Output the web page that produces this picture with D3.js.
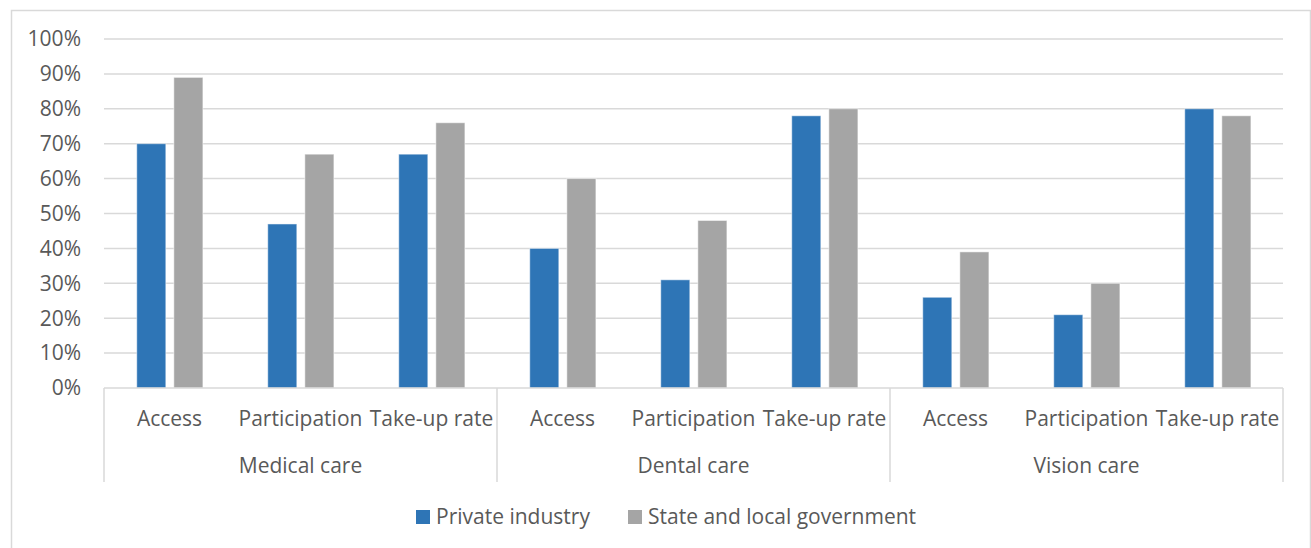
<!DOCTYPE html>
<html>
<head>
<meta charset="utf-8">
<script src="https://cdn.jsdelivr.net/npm/d3@7"></script>
<style>
  body { margin: 0; background: #fff; }
  svg text { font-family: 'Open Sans', sans-serif; fill: #595959; }
</style>
</head>
<body>
<div id="chart"></div>
<script>
// data
var groups = ['Medical care', 'Dental care', 'Vision care'];
var measures = ['Access', 'Participation', 'Take-up rate'];
var series = ['Private industry', 'State and local government'];
var privateVals = [70, 47, 67, 40, 31, 78, 26, 21, 80];
var stateVals = [89, 67, 76, 60, 48, 80, 39, 30, 78];
var yTicks = [0, 10, 20, 30, 40, 50, 60, 70, 80, 90, 100];
var colors = ['#2E75B6', '#A5A5A5'];

var width = 1311, height = 548;
var plot = {left: 104, right: 1283, top: 39, bottom: 388};
var fontSize = 21;

var svg = d3.select('#chart').append('svg')
    .attr('width', width).attr('height', height);

// outer chart border
svg.append('rect')
    .attr('x', 11.5).attr('y', 10.5)
    .attr('width', 1299).attr('height', 560)
    .attr('fill', 'none').attr('stroke', '#d9d9d9').attr('stroke-width', 1.5);

// build category keys: one per group x measure
var cats = [];
groups.forEach(function(g) {
    measures.forEach(function(m) { cats.push(g + '|' + m); });
});

var x = d3.scaleBand().domain(cats).range([plot.left, plot.right]);
var xInner = d3.scaleBand().domain(series)
    .range([x.bandwidth() * 0.25, x.bandwidth() * 0.755])
    .paddingInner(0.216);
var y = d3.scaleLinear().domain([0, 100]).range([plot.bottom, plot.top]);

// gridlines
svg.append('g').selectAll('line')
    .data(yTicks.slice(1)).enter().append('line')
    .attr('x1', plot.left).attr('x2', plot.right)
    .attr('y1', function(d) { return y(d); })
    .attr('y2', function(d) { return y(d); })
    .attr('stroke', '#d9d9d9').attr('stroke-width', 1.5);

// y tick labels
svg.append('g').selectAll('text')
    .data(yTicks).enter().append('text')
    .attr('x', 81).attr('y', function(d) { return y(d); })
    .attr('dy', '0.35em')
    .attr('text-anchor', 'end')
    .attr('font-size', fontSize)
    .text(function(d) { return d + '%'; });

// bars
var rows = cats.map(function(c, i) {
    return {cat: c, vals: [privateVals[i], stateVals[i]]};
});
var catG = svg.append('g').selectAll('g')
    .data(rows).enter().append('g')
    .attr('transform', function(d) { return 'translate(' + x(d.cat) + ',0)'; });

catG.selectAll('rect')
    .data(function(d) {
        return d.vals.map(function(v, j) { return {s: series[j], v: v, j: j}; });
    })
    .enter().append('rect')
    .attr('x', function(d) { return xInner(d.s); })
    .attr('width', xInner.bandwidth())
    .attr('y', function(d) { return y(d.v); })
    .attr('height', function(d) { return plot.bottom - y(d.v); })
    .attr('fill', function(d) { return colors[d.j]; })
    .attr('stroke', '#ffffff').attr('stroke-opacity', 0.5).attr('stroke-width', 1);

// x axis line
svg.append('line')
    .attr('x1', plot.left).attr('x2', plot.right)
    .attr('y1', plot.bottom).attr('y2', plot.bottom)
    .attr('stroke', '#d9d9d9').attr('stroke-width', 1.5);

// group separators of the multi-level axis
var sepX = [0, 3, 6].map(function(i) { return x(cats[i]); }).concat([plot.right]);
svg.append('g').selectAll('line')
    .data(sepX).enter().append('line')
    .attr('x1', function(d) { return d; }).attr('x2', function(d) { return d; })
    .attr('y1', plot.bottom).attr('y2', 482)
    .attr('stroke', '#d9d9d9').attr('stroke-width', 1.5);

// measure labels
svg.append('g').selectAll('text')
    .data(cats).enter().append('text')
    .attr('x', function(d) { return x(d) + x.bandwidth() / 2; })
    .attr('y', 419).attr('dy', '0.35em')
    .attr('text-anchor', 'middle')
    .attr('font-size', fontSize)
    .text(function(d) { return d.split('|')[1]; });

// group labels
svg.append('g').selectAll('text')
    .data(groups).enter().append('text')
    .attr('x', function(d, i) { return x(cats[i * 3]) + x.bandwidth() * 1.5; })
    .attr('y', 466).attr('dy', '0.35em')
    .attr('text-anchor', 'middle')
    .attr('font-size', fontSize)
    .text(function(d) { return d; });

// legend
var legendX = [416, 628];
var legend = svg.append('g').selectAll('g')
    .data(series).enter().append('g')
    .attr('transform', function(d, i) { return 'translate(' + legendX[i] + ',517)'; });
legend.append('rect')
    .attr('x', 0).attr('y', -7).attr('width', 14).attr('height', 14)
    .attr('fill', function(d, i) { return colors[i]; });
legend.append('text')
    .attr('x', 20).attr('y', 0).attr('dy', '0.35em')
    .attr('font-size', fontSize)
    .text(function(d) { return d; });
</script>
</body>
</html>
